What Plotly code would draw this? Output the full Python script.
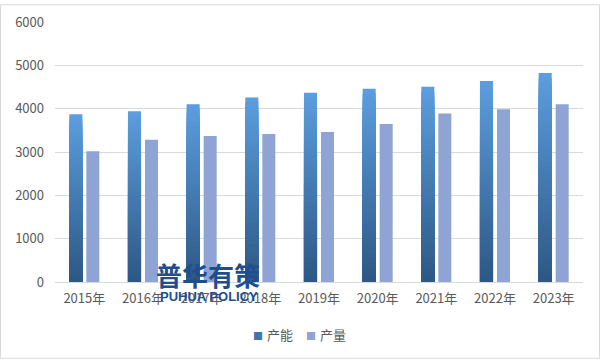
import plotly.graph_objects as go

years = ["2015年", "2016年", "2017年", "2018年", "2019年", "2020年", "2021年", "2022年", "2023年"]
capacity = [3870, 3940, 4100, 4255, 4370, 4460, 4505, 4640, 4825]   # 产能
output = [3015, 3280, 3370, 3415, 3460, 3645, 3890, 3985, 4100]     # 产量
y_ticks = [0, 1000, 2000, 3000, 4000, 5000, 6000]

TOP = (91, 157, 222)
BOT = (46, 88, 133)
OUT_COLOR = "#8FA3D4"
FONT = "Noto Sans CJK SC"

def mix(t):
    return "rgb(%d,%d,%d)" % tuple(round(a + (b - a) * t) for a, b in zip(TOP, BOT))

fig = go.Figure()
N = 40
bw = 0.222
for i in range(N):
    frac = (N - i) / N
    fig.add_trace(go.Bar(
        x=years, y=[v * frac for v in capacity], name="产能",
        marker=dict(color=mix(i / (N - 1)), line=dict(width=0)),
        width=bw, offset=-0.145 - bw / 2, showlegend=False, hoverinfo="skip" if i else None,
    ))
fig.add_trace(go.Bar(
    x=years, y=output, name="产量",
    marker=dict(color=OUT_COLOR, line=dict(width=0)),
    width=bw, offset=0.145 - bw / 2, showlegend=False,
))

ann = []
# legend
ann.append(dict(text="■", x=(258 - 55) / 528, y=(282 - 336) / 264, xref="paper", yref="paper",
                showarrow=False, font=dict(size=10, color="#3E74AB", family=FONT), xanchor="center", yanchor="middle"))
ann.append(dict(text="产能", x=(265 - 55) / 528, y=(282 - 335) / 264, xref="paper", yref="paper",
                showarrow=False, font=dict(size=13, color="#595959", family=FONT), xanchor="left", yanchor="middle"))
ann.append(dict(text="■", x=(311 - 55) / 528, y=(282 - 336) / 264, xref="paper", yref="paper",
                showarrow=False, font=dict(size=10, color=OUT_COLOR, family=FONT), xanchor="center", yanchor="middle"))
ann.append(dict(text="产量", x=(318 - 55) / 528, y=(282 - 335) / 264, xref="paper", yref="paper",
                showarrow=False, font=dict(size=13, color="#595959", family=FONT), xanchor="left", yanchor="middle"))
# watermark
ann.append(dict(text="<b>普华有策</b>", x=(208 - 55) / 528, y=(282 - 274) / 264, xref="paper", yref="paper",
                showarrow=False, font=dict(size=26, color="#1F4E8E", family=FONT), xanchor="center", yanchor="middle"))
ann.append(dict(text="<b>PUHUA POLICY</b>", x=(209 - 55) / 528, y=(282 - 297) / 264, xref="paper", yref="paper",
                showarrow=False, font=dict(size=13, color="#1F4E8E", family="Liberation Sans"), xanchor="center", yanchor="middle"))

fig.update_layout(
    width=601, height=361,
    margin=dict(l=55, r=18, t=18, b=79),
    paper_bgcolor="white", plot_bgcolor="white",
    barmode="overlay",
    showlegend=False,
    font=dict(family=FONT, size=13, color="#595959"),
    annotations=ann,
    shapes=[dict(type="rect", xref="paper", yref="paper",
                 x0=(0.5 - 55) / 528, x1=(599.5 - 55) / 528,
                 y0=(282 - 359.5) / 264, y1=(282 - 0.5) / 264,
                 line=dict(color="#D9D9D9", width=1), fillcolor="rgba(0,0,0,0)", layer="below")],
    xaxis=dict(showgrid=False, showline=True, linecolor="#D9D9D9", linewidth=1,
               ticks="", tickfont=dict(size=13, color="#595959"), ticklabelstandoff=4),
    yaxis=dict(range=[0, 6000], tickvals=y_ticks, showgrid=True, gridcolor="#D9D9D9", gridwidth=1,
               zeroline=False, showline=False, ticks="", tickfont=dict(size=13, color="#595959"),
               ticklabelstandoff=10),
)

fig.write_html("out.html", config={"displayModeBar": False},
               post_script="document.body.style.margin='0';document.body.style.overflow='hidden';")
